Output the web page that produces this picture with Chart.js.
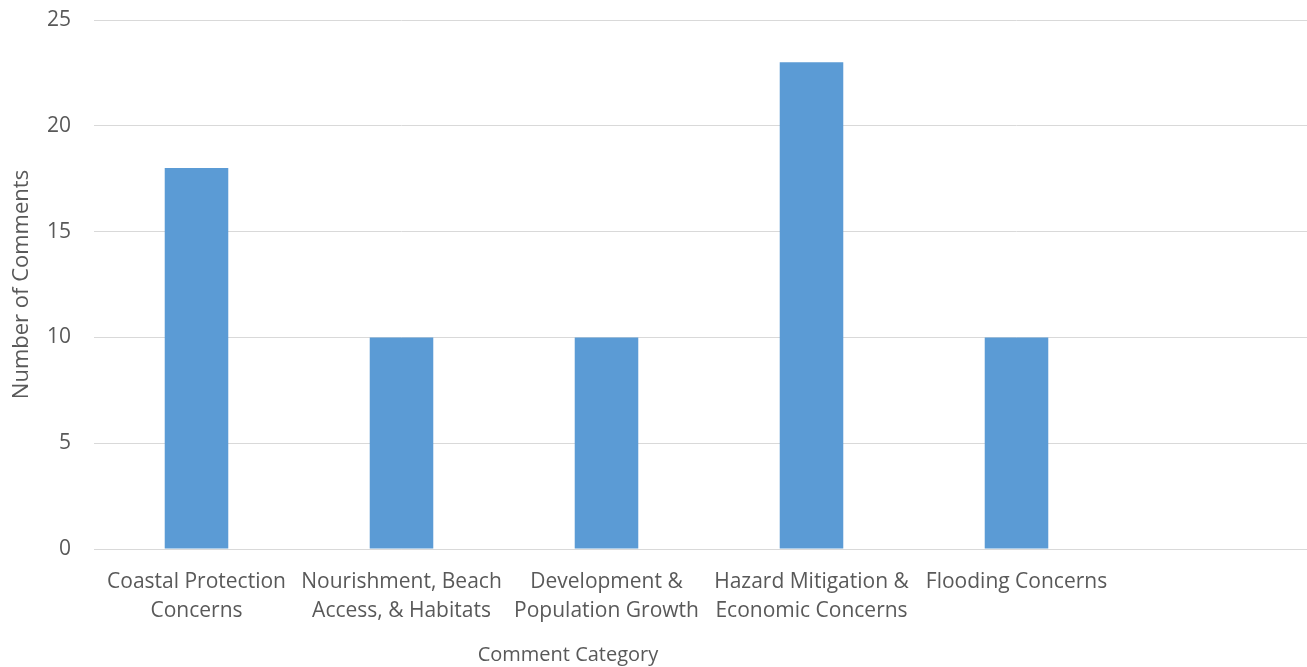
<!DOCTYPE html>
<html>
<head>
<meta charset="utf-8">
<script src="https://cdn.jsdelivr.net/npm/chart.js@4/dist/chart.umd.min.js"></script>
<style>
  html, body { margin: 0; padding: 0; background: #fff; overflow: hidden; }
  #wrap { width: 1307px; height: 667px; overflow: hidden; position: relative; }
  #box { width: 1324px; height: 667px; position: absolute; left: 0; top: 0; }
</style>
</head>
<body>
<div id="wrap"><div id="box"><canvas id="chart"></canvas></div></div>
<script>
const categories = [
  ["Coastal Protection", "Concerns"],
  ["Nourishment, Beach", "Access, & Habitats"],
  ["Development &", "Population Growth"],
  ["Hazard Mitigation &", "Economic Concerns"],
  ["Flooding Concerns"],
  ""
];
const commentCounts = [18, 10, 10, 23, 10, null];
const yTicks = [0, 5, 10, 15, 20, 25];

const FONT = "'Open Sans', sans-serif";
const TEXT = "#595959";

// draws the x axis title where the reference has it
const xTitle = {
  id: "xTitle",
  afterDraw(chart) {
    const ctx = chart.ctx;
    ctx.save();
    ctx.font = "20px " + FONT;
    ctx.fillStyle = TEXT;
    ctx.textAlign = "center";
    ctx.textBaseline = "middle";
    ctx.fillText("Comment Category", 568, 655);
    ctx.restore();
  }
};

new Chart(document.getElementById("chart"), {
  type: "bar",
  data: {
    labels: categories,
    datasets: [{
      label: "Number of Comments",
      data: commentCounts,
      backgroundColor: "#5b9bd5",
      categoryPercentage: 1,
      barPercentage: 0.31
    }]
  },
  options: {
    responsive: true,
    maintainAspectRatio: false,
    animation: false,
    layout: { padding: { top: 20, left: 0, right: 0, bottom: 0 } },
    plugins: { legend: { display: false }, tooltip: { enabled: false } },
    scales: {
      x: {
        grid: { display: false, drawTicks: false },
        border: { color: "#d9d9d9", width: 1 },
        ticks: {
          color: TEXT,
          font: { family: FONT, size: 21, lineHeight: 1.38 },
          padding: 19,
          maxRotation: 0,
          autoSkip: false
        },
        afterFit(scale) { scale.height = 118; }
      },
      y: {
        min: 0,
        max: 25,
        afterBuildTicks(scale) { scale.ticks = yTicks.map(v => ({ value: v })); },
        // invisible tick marks give the label gap without padding the top
        grid: { color: "#d9d9d9", drawTicks: true, tickLength: 23, tickColor: "rgba(0,0,0,0)" },
        border: { display: false },
        ticks: {
          color: TEXT,
          font: { family: FONT, size: 21 },
          padding: 0
        },
        title: {
          display: true,
          text: "Number of Comments",
          color: TEXT,
          font: { family: FONT, size: 22 },
          padding: { top: 9, bottom: 3 }
        },
        afterFit(scale) { scale.width = 94; }
      }
    }
  },
  plugins: [xTitle]
});
</script>
</body>
</html>
